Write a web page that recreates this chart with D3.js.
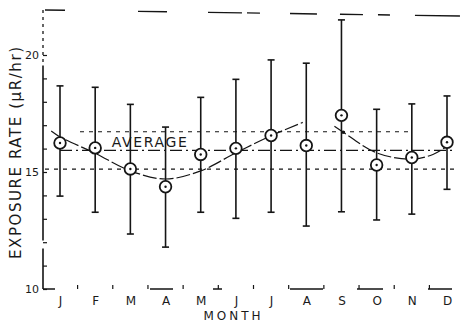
<!DOCTYPE html>
<html>
<head>
<meta charset="utf-8">
<script src="https://cdn.jsdelivr.net/npm/d3@7/dist/d3.min.js"></script>
<style>
  html, body { margin: 0; padding: 0; background: #fff; }
  svg { display: block; }
  text { font-family: "DejaVu Sans", sans-serif; fill: #1a1a1a; }
</style>
</head>
<body>
<div id="chart"></div>
<script>
// Monthly exposure rate (μR/hr): mean with range bars
const months = ["J", "F", "M", "A", "M", "J", "J", "A", "S", "O", "N", "D"];
const meanRate  = [16.24, 16.03, 15.13, 14.37, 15.75, 16.01, 16.56, 16.13, 17.42, 15.30, 15.62, 16.27];
const upperRate = [18.68, 18.62, 17.89, 16.92, 18.19, 18.96, 19.79, 19.65, 21.50, 17.68, 17.91, 18.25];
const lowerRate = [13.97, 13.28, 12.35, 11.79, 13.28, 13.02, 13.28, 12.69, 13.30, 12.95, 13.20, 14.26];

// Fitted seasonal curve (month index, rate), drawn in two pieces
const fitSpringMonth = [-0.25, 0, 1, 2, 3, 4, 5, 6, 6.9];
const fitSpringRate  = [16.75, 16.5, 15.8, 15.05, 14.7, 15.05, 15.82, 16.55, 17.12];
const fitAutumnMonth = [7.8, 8.05, 9, 10, 10.6, 11];
const fitAutumnRate  = [16.95, 16.7, 15.82, 15.55, 15.75, 16.1];

// Annual average and spread band
const averageRate = 15.92;
const bandUpper = 16.72;
const bandLower = 15.12;

const yTickValues = [10, 11, 12, 13, 14, 15, 16, 17, 18, 19, 20];
const yTickLabels = [10, 15, 20];

const W = 461, H = 330;
const svg = d3.select("#chart").append("svg")
  .attr("width", W).attr("height", H);

const axisX = 43, axisBottom = 289, topY = 10;
const x = d3.scaleLinear().domain([0, 11]).range([60, 447]);
const y = d3.scaleLinear().domain([10, 20]).range([axisBottom, 55]);
const ink = "#151515";

// Frame: left axis (dotted above 20), top rule, broken bottom rule
svg.append("line")
  .attr("x1", axisX).attr("x2", axisX)
  .attr("y1", topY).attr("y2", y(19.55))
  .attr("stroke", ink).attr("stroke-width", 1.3)
  .attr("stroke-dasharray", "3,4");
svg.append("line")
  .attr("x1", axisX).attr("x2", axisX)
  .attr("y1", y(19.55)).attr("y2", axisBottom)
  .attr("stroke", ink).attr("stroke-width", 1.6)
  .attr("stroke-dasharray", "175,8,60");
svg.append("line")
  .attr("x1", 45).attr("x2", 460)
  .attr("y1", topY).attr("y2", topY + 6)
  .attr("stroke", ink).attr("stroke-width", 1.4)
  .attr("stroke-dasharray", "20,73,29,41,34,5,13,30,27,23,23,15,12,25,45");
svg.append("line")
  .attr("x1", axisX).attr("x2", 455)
  .attr("y1", axisBottom).attr("y2", axisBottom)
  .attr("stroke", ink).attr("stroke-width", 1.3)
  .attr("stroke-dasharray", "12,95,23,40,9,68,33,34,26,45,24");

// Month boundary ticks
svg.append("g").selectAll("line")
  .data(d3.range(11))
  .join("line")
  .attr("x1", i => x(i + 0.5)).attr("x2", i => x(i + 0.5))
  .attr("y1", axisBottom).attr("y2", axisBottom - 4)
  .attr("stroke", ink).attr("stroke-width", 1.2);

// Y axis ticks (inward) and labels
const yAxis = d3.axisLeft(y)
  .tickValues(yTickValues)
  .tickSizeInner(-4)
  .tickSizeOuter(0)
  .tickPadding(4)
  .tickFormat(d => yTickLabels.includes(d) ? String(d) : "");
const gy = svg.append("g").attr("transform", `translate(${axisX},0)`).call(yAxis);
gy.select(".domain").remove();
gy.selectAll(".tick line").attr("stroke", ink).attr("stroke-width", 1.2);
gy.selectAll(".tick text")
  .style("font-family", "'DejaVu Sans', sans-serif")
  .style("font-size", "11px").attr("fill", ink);

// Month labels
const xAxis = d3.axisBottom(x)
  .tickValues(d3.range(12))
  .tickSize(0)
  .tickPadding(7)
  .tickFormat(i => months[i]);
const gx = svg.append("g").attr("transform", `translate(0,${axisBottom})`).call(xAxis);
gx.select(".domain").remove();
gx.selectAll(".tick text")
  .style("font-family", "'DejaVu Sans', sans-serif")
  .style("font-size", "12px").attr("fill", ink);

// Axis titles
svg.append("text")
  .attr("x", 232).attr("y", 320)
  .attr("text-anchor", "middle")
  .attr("textLength", 57).attr("lengthAdjust", "spacing")
  .style("font-size", "12px")
  .text("MONTH");
svg.append("text")
  .attr("transform", "translate(21,153) rotate(-90)")
  .attr("text-anchor", "middle")
  .attr("textLength", 212).attr("lengthAdjust", "spacing")
  .style("font-size", "15px")
  .text("EXPOSURE RATE (μR/hr)");

// Average and spread lines
svg.append("line")
  .attr("x1", axisX + 2).attr("x2", 455)
  .attr("y1", y(bandLower)).attr("y2", y(bandLower))
  .attr("stroke", ink).attr("stroke-width", 1.2)
  .attr("stroke-dasharray", "4,5");
svg.append("line")
  .attr("x1", x(0) + 20).attr("x2", x(10))
  .attr("y1", y(bandUpper)).attr("y2", y(bandUpper))
  .attr("stroke", ink).attr("stroke-width", 1.2)
  .attr("stroke-dasharray", "4,5");
svg.append("line")
  .attr("x1", x(0)).attr("x2", x(11) + 8)
  .attr("y1", y(averageRate)).attr("y2", y(averageRate))
  .attr("stroke", ink).attr("stroke-width", 1.3)
  .attr("stroke-dasharray", "12,4,2,4");
svg.append("text")
  .attr("x", x(1.5) - 1).attr("y", y(averageRate) - 3)
  .attr("textLength", 75).attr("lengthAdjust", "spacing")
  .style("font-size", "14px")
  .text("AVERAGE");

// Fitted curve
const fitLine = d3.line()
  .x(d => x(d[0])).y(d => y(d[1]))
  .curve(d3.curveCatmullRom);
svg.append("path")
  .attr("d", fitLine(d3.zip(fitSpringMonth, fitSpringRate)))
  .attr("fill", "none").attr("stroke", ink).attr("stroke-width", 1.2)
  .attr("stroke-dasharray", "14,3");
svg.append("path")
  .attr("d", fitLine(d3.zip(fitAutumnMonth, fitAutumnRate)))
  .attr("fill", "none").attr("stroke", ink).attr("stroke-width", 1.2)
  .attr("stroke-dasharray", "14,3");
svg.append("circle")
  .attr("cx", x(fitAutumnMonth[1])).attr("cy", y(fitAutumnRate[1]))
  .attr("r", 1.8).attr("fill", ink);

// Range bars
const bars = svg.append("g");
const capHalf = 3.5;
months.forEach((m, i) => {
  const g = bars.append("g");
  g.append("line")
    .attr("x1", x(i)).attr("x2", x(i))
    .attr("y1", y(upperRate[i])).attr("y2", y(lowerRate[i]))
    .attr("stroke", ink).attr("stroke-width", 1.6);
  [upperRate[i], lowerRate[i]].forEach(v => {
    g.append("line")
      .attr("x1", x(i) - capHalf).attr("x2", x(i) + capHalf)
      .attr("y1", y(v)).attr("y2", y(v))
      .attr("stroke", ink).attr("stroke-width", 1.6);
  });
});

// Monthly means: open circle with centre dot
const pts = svg.append("g").selectAll("g")
  .data(meanRate)
  .join("g")
  .attr("transform", (d, i) => `translate(${x(i)},${y(d)})`);
pts.append("circle")
  .attr("r", 5.8).attr("fill", "#fff")
  .attr("stroke", ink).attr("stroke-width", 1.8);
pts.append("circle")
  .attr("r", 1.2).attr("fill", ink);
</script>
</body>
</html>
